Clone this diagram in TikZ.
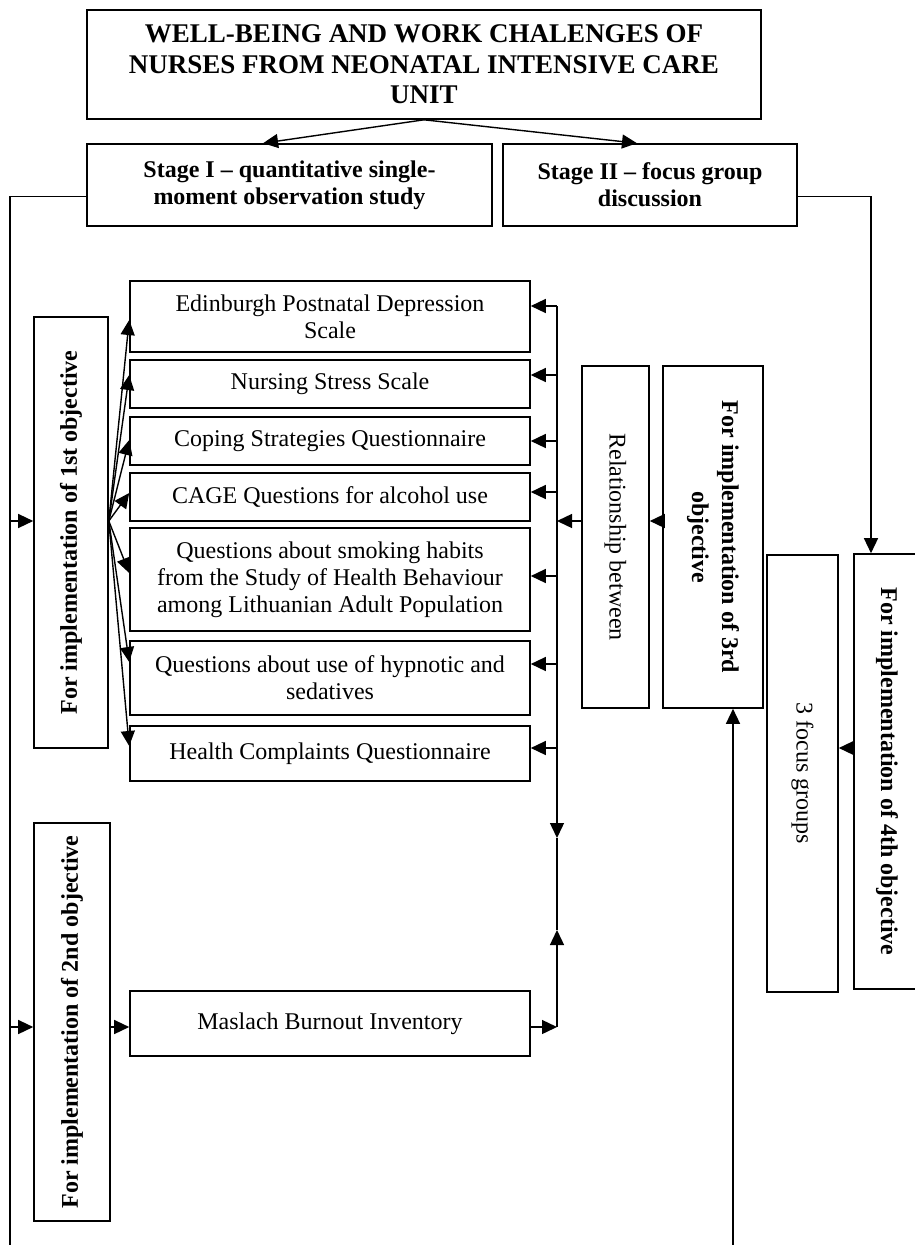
\documentclass[tikz,border=0pt]{standalone}
\usepackage{fontspec}
\setmainfont{Liberation Serif}
\usetikzlibrary{arrows.meta,calc}
\begin{document}
\begin{tikzpicture}[x=1pt,y=-1pt,line width=1.4pt,
  box/.style={draw,line width=1.6pt,inner sep=0pt,align=center,font=\fontsize{24}{27}\selectfont},
  bbox/.style={box,font=\fontsize{24}{30}\selectfont\bfseries},
  arr/.style={-{Triangle[length=15pt,width=14pt]}}]
\useasboundingbox (0,0) rectangle (914,1245);

% top and stages
\node[box,font=\fontsize{27}{30.5}\selectfont\bfseries,minimum width=674,minimum height=109] (top) at (424,64.5)
  {WELL-BEING AND WORK CHALENGES OF\\NURSES FROM NEONATAL INTENSIVE CARE\\UNIT};
\node[bbox,font=\fontsize{24}{27}\selectfont\bfseries,minimum width=405,minimum height=82] (s1) at (289.5,185)
  {Stage I – quantitative single-\\moment observation study};
\node[bbox,font=\fontsize{24}{27}\selectfont\bfseries,minimum width=294,minimum height=82] (s2) at (650,185)
  {Stage II – focus group\\discussion};

% objectives
\node[bbox,minimum width=74,minimum height=431] (o1) at (71,532.5)
  {\rotatebox{90}{For implementation of 1st objective}};
\node[bbox,minimum width=76,minimum height=398] (o2) at (72,1022)
  {\rotatebox{90}{For implementation of 2nd objective}};
\node[bbox,minimum width=100,minimum height=342] (o3) at (713,537)
  {\rotatebox{-90}{\begin{tabular}{@{}c@{}}For implementation of 3rd\\objective\end{tabular}}};
\node[box,minimum width=67,minimum height=342] (rel) at (615.5,537)
  {\rotatebox{-90}{Relationship between}};
\node[box,minimum width=71,minimum height=437] (fg) at (802.5,773.5)
  {\rotatebox{-90}{3 focus groups}};
\node[bbox,minimum width=66,minimum height=435] (o4) at (887,771.5)
  {\rotatebox{-90}{For implementation of 4th objective}};

% instruments
\node[box,minimum width=400,minimum height=71] (edin) at (330,316.5)
  {Edinburgh Postnatal Depression\\Scale};
\node[box,minimum width=400,minimum height=48] (nss) at (330,384) {Nursing Stress Scale};
\node[box,minimum width=400,minimum height=48] (csq) at (330,441) {Coping Strategies Questionnaire};
\node[box,minimum width=400,minimum height=48] (cage) at (330,497) {CAGE Questions for alcohol use};
\node[box,minimum width=400,minimum height=103] (smk) at (330,579.5)
  {Questions about smoking habits\\from the Study of Health Behaviour\\among Lithuanian Adult Population};
\node[box,minimum width=400,minimum height=74] (hyp) at (330,678)
  {Questions about use of hypnotic and\\sedatives};
\node[box,minimum width=400,minimum height=55] (hcq) at (330,753.5) {Health Complaints Questionnaire};
\node[box,minimum width=400,minimum height=65] (mas) at (330,1023.5) {Maslach Burnout Inventory};

% coordinates
\coordinate (s1l) at ($(s1.south west)!0.36!(s1.north west)$);
\coordinate (s2r) at ($(s2.south east)!0.36!(s2.north east)$);
\coordinate (bl) at (10,1245);
\coordinate (rx) at (871,0);
\coordinate (l1) at (10,521);
\coordinate (l2) at (10,1027);
\coordinate (f0) at ($(o1.east)+(0,-11.5)$);
\coordinate (b1) at (557,306);
\coordinate (b2) at (557,375);
\coordinate (b3) at (557,441);
\coordinate (b4) at (557,492);
\coordinate (b5) at (557,576);
\coordinate (b6) at (557,664);
\coordinate (b7) at (557,748);
\coordinate (bm1) at (557,838);
\coordinate (bm2) at (557,930);
\coordinate (bb) at (557,1027);
\coordinate (ry) at (0,521);
\coordinate (fy) at (0,748);
\coordinate (o3b) at (733,1245);

% top arrows
\draw[arr] (top.south) -- ($(s1.north west)!0.435!(s1.north east)$);
\draw[arr] (top.south) -- ($(s2.north west)!0.456!(s2.north east)$);

% left trunk
\draw (s1l) -| (bl);
\draw[arr] (l1) -- (o1.west |- l1);
\draw[arr] (l2) -- (o2.west |- l2);
\draw[arr] (o2.east |- l2) -- (mas.west |- l2);

% right trunk
\draw[arr] (s2r) -| (o4.north -| rx);
\draw[arr] (o4.west |- fy) -- (fg.east |- fy);

% fan
\draw[arr] (f0) -- (edin.west |- 0,320);
\draw[arr] (f0) -- (nss.west |- b2);
\draw[arr] (f0) -- (csq.west |- 0,440);
\draw[arr] (f0) -- (cage.west |- 0,493);
\draw[arr] (f0) -- (smk.west |- 0,573);
\draw[arr] (f0) -- (hyp.west |- 0,662);
\draw[arr] (f0) -- (hcq.west |- 0,746);

% bus
\draw[arr] (b1) -- (bm1);
\draw (bm1) -- (bm2);
\draw[arr] (bb) -- (bm2);
\draw[arr] (b1) -- (edin.east |- b1);
\draw[arr] (b2) -- (nss.east |- b2);
\draw[arr] (b3) -- (csq.east |- b3);
\draw[arr] (b4) -- (cage.east |- b4);
\draw[arr] (b5) -- (smk.east |- b5);
\draw[arr] (b6) -- (hyp.east |- b6);
\draw[arr] (b7) -- (hcq.east |- b7);
\draw[arr] (mas.east |- bb) -- (bb);

% relationship
\draw[arr] (o3.west |- ry) -- (rel.east |- ry);
\draw[arr] (rel.west |- ry) -- (b1 |- ry);
\draw[arr] (o3b) -- (o3.south -| o3b);
\end{tikzpicture}
\end{document}
